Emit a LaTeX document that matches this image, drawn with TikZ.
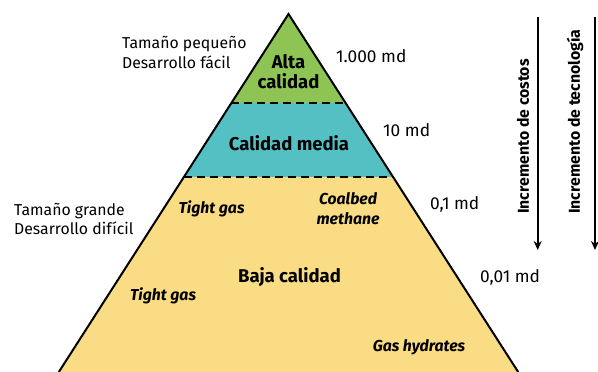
\documentclass[tikz,border=0pt]{standalone}
\usepackage{fontspec}
\setmainfont{Fira Sans}
\usetikzlibrary{arrows.meta}
\definecolor{cgreen}{RGB}{141,196,84}
\definecolor{cteal}{RGB}{84,192,196}
\definecolor{cyellow}{RGB}{249,220,132}
\begin{document}
\begin{tikzpicture}[x=1pt,y=-1pt,
  lbl/.style={font=\fontsize{15.8}{19.5}\selectfont, align=left, inner sep=0pt, anchor=west},
  md/.style={font=\fontsize{17.3}{19}\selectfont, inner sep=0pt, anchor=west},
  zone/.style={font=\bfseries\fontsize{18.5}{20}\selectfont, align=center, inner sep=0pt},
  gas/.style={font=\bfseries\itshape\fontsize{15.8}{20}\selectfont, align=center, inner sep=0pt},
  side/.style={line width=2pt},
  sep/.style={line width=2pt, dash pattern=on 8pt off 5pt},
  incr/.style={line width=2pt, -{Stealth[length=9pt,width=8pt]}},
  vtxt/.style={font=\bfseries\fontsize{15.8}{17}\selectfont, rotate=90, anchor=west, inner sep=0pt}]
\useasboundingbox (0,0) rectangle (598,372);
\coordinate (A) at (288.5,14);
\coordinate (BL) at (58.8,372);
\coordinate (BR) at (518.2,372);
\coordinate (L1) at (231.4,103);
\coordinate (R1) at (345.6,103);
\coordinate (L2) at (184,177);
\coordinate (R2) at (393,177);
\fill[cgreen] (A) -- (L1) -- (R1) -- cycle;
\fill[cteal] (L1) -- (L2) -- (R2) -- (R1) -- cycle;
\fill[cyellow] (L2) -- (BL) -- (BR) -- (R2) -- cycle;
\draw[sep] (L1) -- (R1);
\draw[sep] (L2) -- (R2);
\draw[side, line join=miter] (BL) -- (A) -- (BR);
% zone labels
\node[zone] (alta) at (288.5,72) {Alta\\calidad};
\node[zone] (media) at (289,143) {Calidad media};
\node[zone] (baja) at (289.5,277) {Baja calidad};
% gas types
\node[gas] (tg1) at (211.5,209) {Tight gas};
\node[gas] (cbm) at (348,209) {Coalbed\\methane};
\node[gas] (tg2) at (163,296) {Tight gas};
\node[gas] (gh) at (419,347) {Gas hydrates};
% side labels
\node[lbl] (peq) at (122,52.5) {Tamaño pequeño\\Desarrollo fácil};
\node[lbl] (gra) at (14,219) {Tamaño grande\\Desarrollo difícil};
\node[md] (m1) at (336,56) {1.000 md};
\node[md] (m2) at (383,130) {10 md};
\node[md] (m3) at (430,204) {0,1 md};
\node[md] (m4) at (480,277) {0,01 md};
% arrows
\coordinate (c1s) at (537.7,17);
\coordinate (c1e) at (537.7,250);
\coordinate (c2s) at (595,17);
\coordinate (c2e) at (595,250);
\draw[incr] (c1s) -- (c1e);
\draw[incr] (c2s) -- (c2e);
\node[vtxt] (costos) at (523,214) {Incremento de costos};
\node[vtxt] (tec) at (575,214) {Incremento de tecnología};
\end{tikzpicture}
\end{document}
